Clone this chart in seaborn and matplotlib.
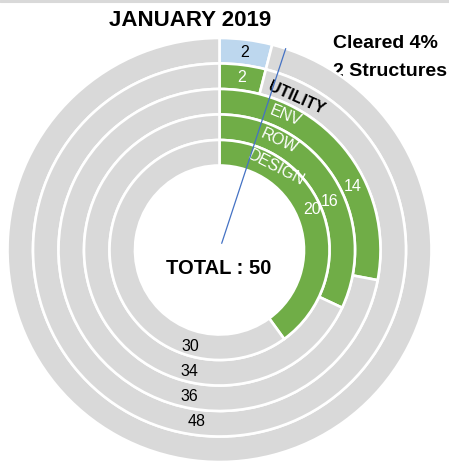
import matplotlib
matplotlib.use("Agg")
import matplotlib.pyplot as plt
from matplotlib.lines import Line2D
import seaborn as sns
import numpy as np

# ---- data ----
title = "JANUARY 2019"
rings = ["CLEARED", "UTILITY", "ENV", "ROW", "DESIGN"]
done = [2, 2, 14, 16, 20]
remaining = [48, 48, 36, 34, 30]
ring_labels = ["", "UTILITY", "ENV", "ROW", "DESIGN"]
show_remaining = [False, True, True, True, True]
total = 50
cleared_text = ["Cleared 4%", "2 Structures"]

# ---- style ----
sns.set_theme(style="white")
plt.rcParams["font.family"] = ["Liberation Sans", "DejaVu Sans"]

W, H = 449, 462
fig = plt.figure(figsize=(W / 100, H / 100), dpi=100)
ax = fig.add_axes([0, 0, 1, 1])

cx, cy = 219.5, H - 250
R0, step = 212, 25.5
grey = "#D9D9D9"
green = "#70AD47"
done_colors = ["#BDD7EE", green, green, green, green]


def pos(angle_deg, r):
    a = np.radians(angle_deg)
    return cx + r * np.sin(a), cy + r * np.cos(a)


for i in range(len(rings)):
    r = R0 - i * step
    ax.pie([done[i], remaining[i]], radius=r, center=(cx, cy), startangle=90,
           counterclock=False, colors=[done_colors[i], grey],
           wedgeprops=dict(width=step, edgecolor="white", linewidth=1.9, zorder=1))

ax.set_xlim(0, W)
ax.set_ylim(0, H)
ax.set_aspect("equal")
ax.axis("off")

num_fs = 11.5
name_fs = 11.5

# done-value labels (start segment)
for i in range(2):
    r = R0 - i * step - step / 2
    x, y = pos(done[i] / total * 180, r)
    ax.text(x, y, str(done[i]), ha="center", va="center", fontsize=num_fs,
            color="black" if i == 0 else "white", zorder=3)

# ring names
name_pos = {"UTILITY": (27, 170.5, -24), "ENV": (26.4, 149.5, -22),
            "ROW": (29, 124, -25), "DESIGN": (34.6, 99.5, -27)}
for i, name in enumerate(ring_labels):
    if not name:
        continue
    ang, rr, rot = name_pos[name]
    x, y = pos(ang, rr)
    ax.text(x, y, name, ha="center", va="center", fontsize=name_fs,
            rotation=rot, rotation_mode="anchor",
            color="black" if name == "UTILITY" else "white",
            fontweight="bold" if name == "UTILITY" else "normal", zorder=3)

# done values for larger rings
val_pos = {2: (64.7, 147.6), 3: (66.5, 120.5), 4: (66.6, 100.8)}
for i, (ang, rr) in val_pos.items():
    x, y = pos(ang, rr)
    ax.text(x, y, str(done[i]), ha="center", va="center", fontsize=num_fs,
            color="white", zorder=3)

# remaining labels at the bottom
rem_pos = {1: (187.5, 172.5), 2: (191.5, 149.5), 3: (194, 125.5), 4: (196.9, 101)}
for i, (ang, rr) in rem_pos.items():
    if show_remaining[i]:
        x, y = pos(ang, rr)
        ax.text(x, y, str(remaining[i]), ha="center", va="center",
                fontsize=num_fs, color="black", zorder=3)

# leader line
la = 18.2
x0, y0 = pos(la, 7)
x1, y1 = pos(la, 212)
ax.add_line(Line2D([x0, x1], [y0, y1], color="#4472C4", lw=0.9, zorder=4))

# texts
ax.text(190.5, H - 21, title, ha="center", va="center", fontsize=16,
        fontweight="bold", color="black", zorder=3)
ax.text(cx - 1, H - 268, f"TOTAL : {total}", ha="center", va="center",
        fontsize=14.5, fontweight="bold", color="black", zorder=3)
ax.text(333, H - 43.5, cleared_text[0], ha="left", va="center", fontsize=14,
        fontweight="bold", color="black", zorder=3)
ax.text(333, H - 71.5, cleared_text[1], ha="left", va="center", fontsize=14,
        fontweight="bold", color="black", zorder=0.5)

# thin grey border at top
fig.add_artist(Line2D([0, 1], [1 - 1.2 / H, 1 - 1.2 / H], color=grey, lw=2.2,
                      transform=fig.transFigure))

fig.savefig("out.png", dpi=100, facecolor="white")
